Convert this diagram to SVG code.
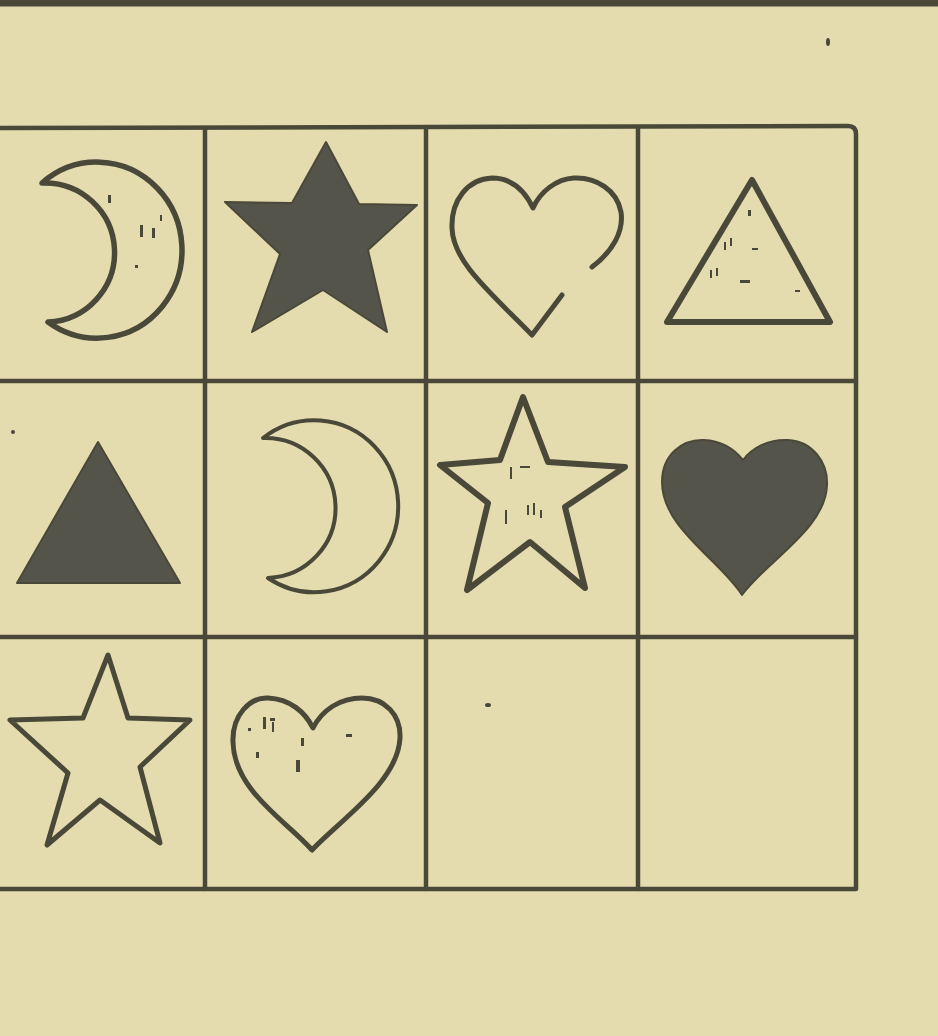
<svg xmlns="http://www.w3.org/2000/svg" width="938" height="1036" viewBox="0 0 938 1036">
<style>
.ln{stroke:#4a4838;fill:none;stroke-linecap:round;stroke-linejoin:round}
.grid{stroke-width:4.5}
.o{stroke:#4a4838;fill:none;stroke-linejoin:round;stroke-linecap:round}
.f{fill:#54544a;stroke:#4a4838;stroke-width:2;stroke-linejoin:round}
.sp{fill:#4a4838}
</style>
<rect width="938" height="1036" fill="#e4dcaf"/>
<line x1="0" y1="3" x2="938" y2="3" class="ln" stroke-width="7"/>
<g id="grid">
<path class="ln grid" d="M0,128 L848,126 Q856,126 856,134 L856,889 L0,889"/>
<line class="ln grid" x1="0" y1="381" x2="856" y2="381"/>
<line class="ln grid" x1="0" y1="637" x2="856" y2="637"/>
<line class="ln grid" x1="205" y1="128" x2="205" y2="889"/>
<line class="ln grid" x1="426" y1="127" x2="426" y2="889"/>
<line class="ln grid" x1="638" y1="127" x2="638" y2="889"/>
</g>
<g id="moon1">
<path class="o" stroke-width="5.5" d="M42,183 A85 88 0 1 1 48,322 A60 60 0 0 0 42,183 Z"/>
<g class="sp"><rect x="108" y="195" width="3" height="8"/><rect x="140" y="225" width="3" height="12"/><rect x="152" y="228" width="3" height="10"/><rect x="160" y="215" width="2" height="6"/><rect x="135" y="265" width="3" height="3"/></g>
</g>
<g id="star1">
<polygon class="f" points="326,142 359,204 417,205 368,250 387,332 323,290 252,332 280,254 225,202 292,203"/>
</g>
<g id="heart1">
<path class="o" stroke-width="5" d="M592,267 C612,252 624,232 621,212 C617,190 596,177 574,178 C556,179 540,192 533,208 C525,191 512,178 492,178 C468,179 451,200 452,228 C453,262 490,292 532,335 L562,295"/>
</g>
<g id="tri1">
<polygon class="o" stroke-width="6" points="752,180 830,322 667,322"/>
<g class="sp"><rect x="748" y="210" width="3" height="6"/><rect x="724" y="242" width="2" height="8"/><rect x="730" y="238" width="2" height="8"/><rect x="752" y="248" width="6" height="2"/><rect x="710" y="270" width="2" height="8"/><rect x="716" y="268" width="2" height="8"/><rect x="740" y="280" width="10" height="3"/><rect x="795" y="290" width="5" height="2"/></g>
</g>
<g id="tri2">
<polygon class="f" points="98,442 180,583 17,583"/>
</g>
<g id="moon2">
<path class="o" stroke-width="4" d="M263,438 A84 86 0 1 1 268,578 A70 70 0 0 0 263,438 Z"/>
</g>
<g id="star2">
<polygon class="o" stroke-width="6" points="523,397 548,462 625,467 565,507 585,588 530,542 467,590 488,503 440,465 500,460"/>
<g class="sp"><rect x="510" y="467" width="2" height="12"/><rect x="520" y="466" width="10" height="2"/><rect x="527" y="505" width="2" height="10"/><rect x="533" y="503" width="2" height="12"/><rect x="540" y="510" width="2" height="8"/><rect x="505" y="510" width="2" height="14"/></g>
</g>
<g id="heart2">
<path class="f" d="M742,595 C720,560 662,528 662,482 C662,455 682,439 704,440 C722,441 735,450 743,460 C752,448 768,439 788,440 C812,441 828,462 827,485 C826,528 768,560 742,595 Z"/>
</g>
<g id="star3">
<polygon class="o" stroke-width="5" points="108,655 128,718 190,720 140,767 160,843 100,800 47,845 68,773 10,720 83,718"/>
</g>
<g id="heart3">
<path class="o" stroke-width="5" d="M312,850 C285,820 234,790 233,742 C232,715 250,697 268,698 C290,699 305,712 313,728 C322,710 340,698 362,698 C385,698 401,715 400,738 C398,782 340,820 312,850 Z"/>
<g class="sp"><rect x="263" y="717" width="3" height="12"/><rect x="270" y="718" width="5" height="3"/><rect x="272" y="722" width="2" height="10"/><rect x="301" y="738" width="3" height="8"/><rect x="296" y="760" width="4" height="12"/><rect x="346" y="734" width="6" height="3"/><rect x="256" y="752" width="3" height="6"/><rect x="248" y="728" width="3" height="3"/></g>
</g>
<g class="sp"><ellipse cx="828" cy="42" rx="2" ry="4"/><ellipse cx="488" cy="705" rx="3" ry="2"/><circle cx="13" cy="432" r="2"/></g>
</svg>
